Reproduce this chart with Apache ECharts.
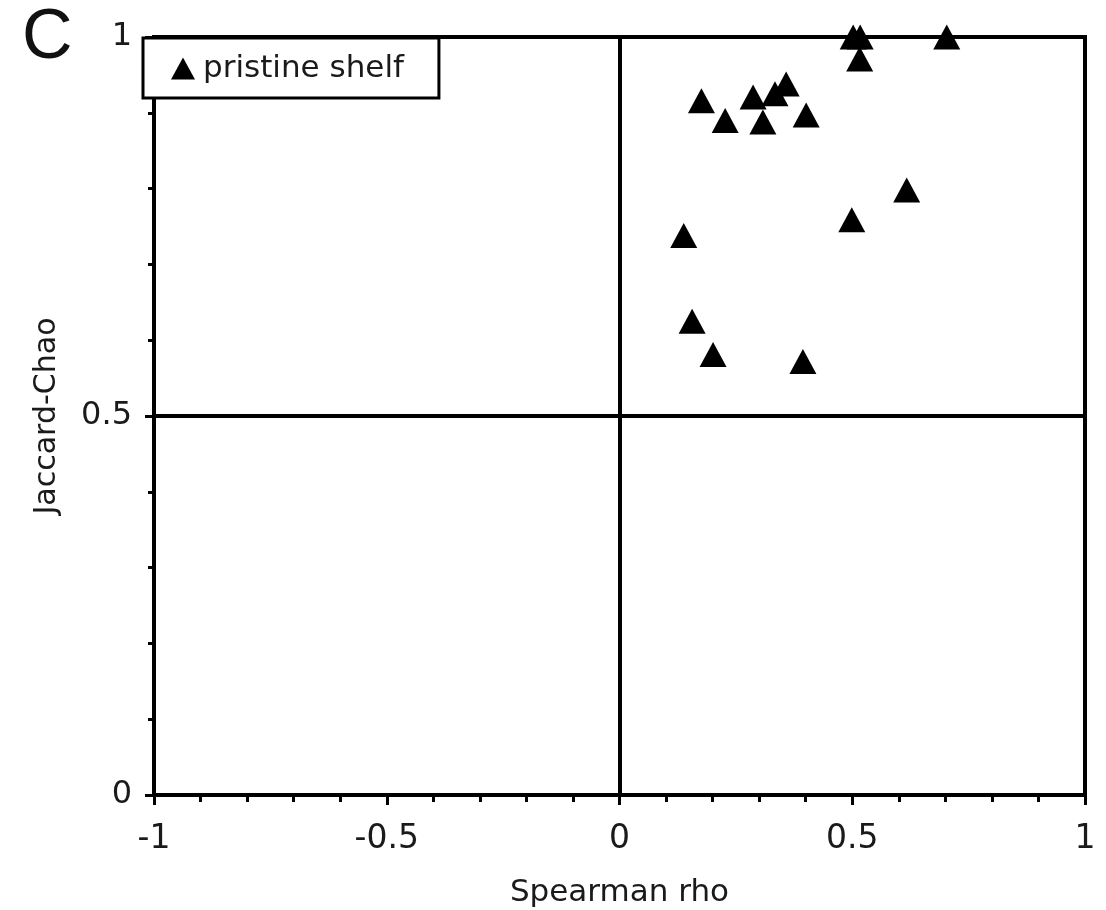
<!DOCTYPE html>
<html>
<head>
<meta charset="utf-8">
<script src="https://cdn.jsdelivr.net/npm/echarts@6/dist/echarts.min.js"></script>
<style>
  html, body { margin: 0; padding: 0; background: #fff; }
  #chart { width: 1106px; height: 910px; }
</style>
</head>
<body>
<div id="chart"></div>
<script>
// Spearman rho (x) vs Jaccard-Chao similarity (y), pristine shelf samples
const seriesName = 'pristine shelf';
const rhoValues = [0.176, 0.227, 0.287, 0.308, 0.334, 0.358, 0.401, 0.502, 0.517, 0.516, 0.703, 0.617, 0.499, 0.138, 0.156, 0.201, 0.394];
const jaccardValues = [0.916, 0.890, 0.921, 0.888, 0.925, 0.938, 0.897, 1.0, 1.0, 0.971, 1.0, 0.798, 0.759, 0.738, 0.625, 0.581, 0.572];
const xTicks = [-1, -0.5, 0, 0.5, 1];
const yTicks = [0, 0.5, 1];
const panelLabel = 'C';

const points = rhoValues.map((r, i) => [r, jaccardValues[i]]);
const fontFamily = 'Verdana, "DejaVu Sans", sans-serif';
const textColor = '#1a1a1a';

const chart = echarts.init(document.getElementById('chart'), null, { renderer: 'canvas' });

chart.setOption({
  animation: false,
  backgroundColor: '#fff',
  grid: {
    left: 154, right: 21, top: 37, bottom: 115,
    outerBoundsMode: 'none',
    containLabel: false,
    show: true, borderColor: '#000', borderWidth: 4, backgroundColor: 'transparent'
  },
  legend: {
    data: [seriesName],
    left: 143, top: 38,
    orient: 'horizontal',
    backgroundColor: '#fff',
    borderColor: '#000', borderWidth: 3, borderRadius: 0,
    padding: [15, 35, 14, 28],
    itemWidth: 24, itemHeight: 22, itemGap: 0,
    icon: 'triangle',
    textStyle: { fontFamily, fontSize: 31, color: textColor, padding: [0, 0, 0, 3] },
    z: 10
  },
  xAxis: {
    type: 'value', min: -1, max: 1, interval: 0.5,
    name: 'Spearman rho', nameLocation: 'middle', nameGap: 82,
    nameTextStyle: { fontFamily, fontSize: 31, color: textColor },
    axisLine: { show: true, onZero: false, lineStyle: { color: '#000', width: 4 } },
    axisTick: { show: true, length: 10, lineStyle: { color: '#000', width: 3 } },
    minorTick: { show: true, splitNumber: 5, length: 7, lineStyle: { color: '#000', width: 3 } },
    splitLine: { show: false },
    axisLabel: {
      fontFamily, fontSize: 33, color: textColor, margin: 28,
      formatter: v => (xTicks.includes(v) ? String(v) : '')
    }
  },
  yAxis: {
    type: 'value', min: 0, max: 1, interval: 0.5,
    name: 'Jaccard-Chao', nameLocation: 'middle', nameGap: 92,
    nameTextStyle: { fontFamily, fontSize: 30, color: textColor },
    axisLine: { show: true, onZero: false, lineStyle: { color: '#000', width: 4 } },
    axisTick: { show: true, length: 9, lineStyle: { color: '#000', width: 3 } },
    minorTick: { show: true, splitNumber: 5, length: 6, lineStyle: { color: '#000', width: 3 } },
    splitLine: { show: false },
    axisLabel: {
      fontFamily, fontSize: 32, color: textColor, margin: 22,
      formatter: v => (yTicks.includes(v) ? String(v) : '')
    }
  },
  graphic: [{
    type: 'text', left: 22, top: 4, z: 10,
    style: { text: panelLabel, font: '70px "Liberation Sans", Arial, sans-serif', fill: '#111' }
  }],
  series: [{
    name: seriesName,
    type: 'scatter',
    symbol: 'triangle',
    symbolSize: [27, 25],
    clip: false,
    itemStyle: { color: '#000', opacity: 1 },
    data: points,
    z: 5,
    markLine: {
      silent: true,
      symbol: 'none',
      label: { show: false },
      lineStyle: { color: '#000', width: 4, type: 'solid' },
      data: [{ xAxis: 0 }, { yAxis: 0.5 }],
      z: 1
    }
  }]
});
</script>
</body>
</html>
